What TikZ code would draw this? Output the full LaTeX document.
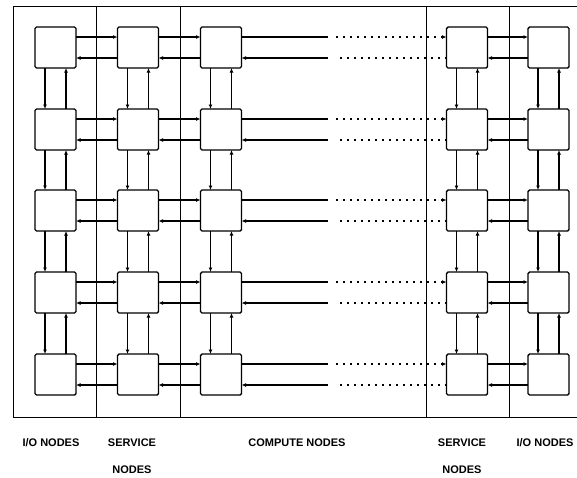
\documentclass[tikz,border=0pt]{standalone}
\usepackage{fontspec}
\setsansfont{Liberation Sans}
\usetikzlibrary{arrows.meta,positioning,calc}

\tikzset{
  pe/.style={draw, line width=1.4pt, rounded corners=1.5pt, minimum size=41pt, inner sep=0pt, outer sep=0pt},
  wire/.style={line width=1.2pt},
  link/.style={wire, -{Latex[length=4.5pt,width=4pt]}},
  far/.style={dash pattern=on 2pt off 5pt},
  tag/.style={font=\sffamily\bfseries\fontsize{11}{13}\selectfont, inner sep=0pt}
}

\begin{document}
\begin{tikzpicture}[x=1pt,y=-1pt]
  \useasboundingbox (0,0) rectangle (577,477);
  % Frame and partitions
  \draw[line width=1pt] (577,6) -- (13,6) -- (13,417) -- (577,417);
  \foreach \x in {96,180,426,509}
    \draw[line width=1pt] (\x,6) -- (\x,417);
  % Processing nodes
  \foreach \x [count=\c] in {55.5,138,221,467,548.5}
    \foreach \y [count=\r] in {47.5,129.5,210.5,292.5,374.5}
      \node[pe,fill=white] (n\c\r) at (\x,\y) {};
  % Horizontal links
  \foreach \a/\b in {1/2,2/3,4/5}
    \foreach \r in {1,...,5} {
      \draw[link] ([yshift=-10pt]n\a\r.north east) -- ([yshift=-10pt]n\b\r.north west);
      \draw[link] ([yshift=10pt]n\b\r.south west) -- ([yshift=10pt]n\a\r.south east);
    }
  % Vertical links
  \foreach \c in {1,...,5}
    \foreach \r/\s in {1/2,2/3,3/4,4/5} {
      \draw[link] ([xshift=10pt]n\c\r.south west) -- ([xshift=10pt]n\c\s.north west);
      \draw[link] ([xshift=-10pt]n\c\s.north east) -- ([xshift=-10pt]n\c\r.south east);
    }
  % Links across the compute array
  \coordinate (cut) at (328,0);
  \coordinate (dots) at (336,0);
  \foreach \r in {1,...,5} {
    \path ([yshift=-10pt]n3\r.north east) coordinate (up)
          ([yshift=10pt]n3\r.south east) coordinate (dn);
    \draw[wire] (up) -- (up -| cut);
    \draw[link,far] (up -| dots) -- ([yshift=-10pt]n4\r.north west);
    \draw[wire,far] ([yshift=10pt]n4\r.south west) -- (dn -| dots);
    \draw[link] (dn -| cut) -- (dn);
  }
  % Labels
  \node[tag] (io-l) at (51,443) {I/O NODES};
  \node[tag,align=center] (sv-l) at (132,456.5) {SERVICE\\[14pt]NODES};
  \node[tag] (cp) at (297,443) {COMPUTE NODES};
  \node[tag,align=center] (sv-r) at (462,456.5) {SERVICE\\[14pt]NODES};
  \node[tag] (io-r) at (545,443) {I/O NODES};
\end{tikzpicture}
\end{document}
